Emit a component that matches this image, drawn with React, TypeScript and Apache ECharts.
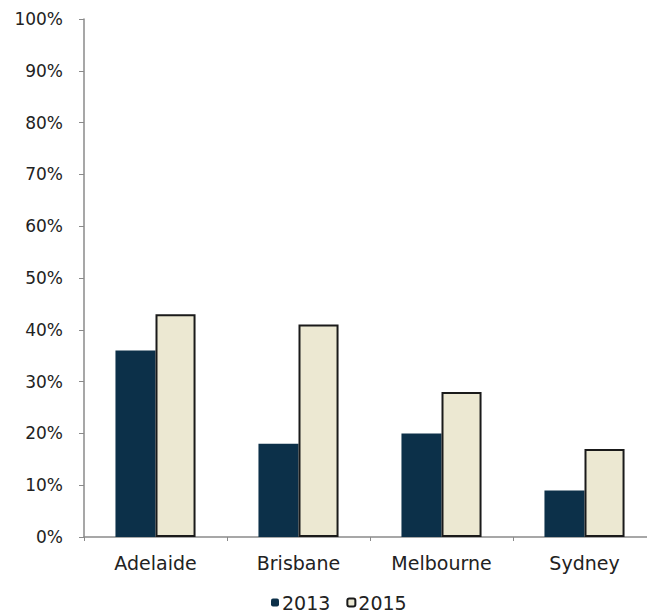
import React, { useEffect, useRef } from "react";
import * as echarts from "echarts";

const categories = ["Adelaide", "Brisbane", "Melbourne", "Sydney"];
const values2013 = [36, 18, 20, 9];
const values2015 = [43, 41, 28, 17];
const seriesNames = ["2013", "2015"];

export default function App() {
  const ref = useRef<HTMLDivElement>(null);
  useEffect(() => {
    if (!ref.current) return;
    const chart = echarts.init(ref.current, null, { renderer: "svg" });
    const font = "DejaVu Sans, Liberation Sans, Arial, sans-serif";
    chart.setOption({
      animation: false,
      backgroundColor: "#ffffff",
      grid: { left: 84, width: 572, top: 19, bottom: 77, containLabel: false, outerBoundsMode: "none" },
      legend: {
        data: seriesNames,
        left: 271,
        top: 593,
        padding: 0,
        itemWidth: 8,
        itemHeight: 8,
        itemGap: 16,
        textStyle: { fontFamily: font, fontSize: 19, color: "#222", padding: [0, 0, 0, -2] },
      },
      xAxis: {
        type: "category",
        data: categories,
        axisLine: { show: true, lineStyle: { color: "#8a8a8a", width: 1.5 } },
        axisTick: { show: true, length: 4, inside: false, alignWithLabel: false, lineStyle: { color: "#8a8a8a" } },
        axisLabel: { fontFamily: font, fontSize: 19, color: "#222", margin: 16 },
      },
      yAxis: {
        type: "value",
        min: 0,
        max: 100,
        interval: 10,
        splitLine: { show: false },
        axisLine: { show: true, lineStyle: { color: "#8a8a8a", width: 1.5 } },
        axisTick: { show: true, length: 5, lineStyle: { color: "#8a8a8a" } },
        axisLabel: { fontFamily: font, fontSize: 17, color: "#222", margin: 21, formatter: "{value}%" },
      },
      series: [
        {
          name: seriesNames[0],
          type: "bar",
          data: values2013,
          barWidth: "28%",
          barGap: "0%",
          itemStyle: { color: "#0c3049" },
        },
        {
          name: seriesNames[1],
          type: "bar",
          data: values2015,
          barWidth: "28%",
          itemStyle: { color: "#ece8d2", borderColor: "#1a1a1a", borderWidth: 2 },
        },
      ],
    });
    return () => chart.dispose();
  }, []);
  return (
    <div
      ref={ref}
      style={{ position: "fixed", left: 0, top: 0, width: 647, height: 614 }}
    />
  );
}
